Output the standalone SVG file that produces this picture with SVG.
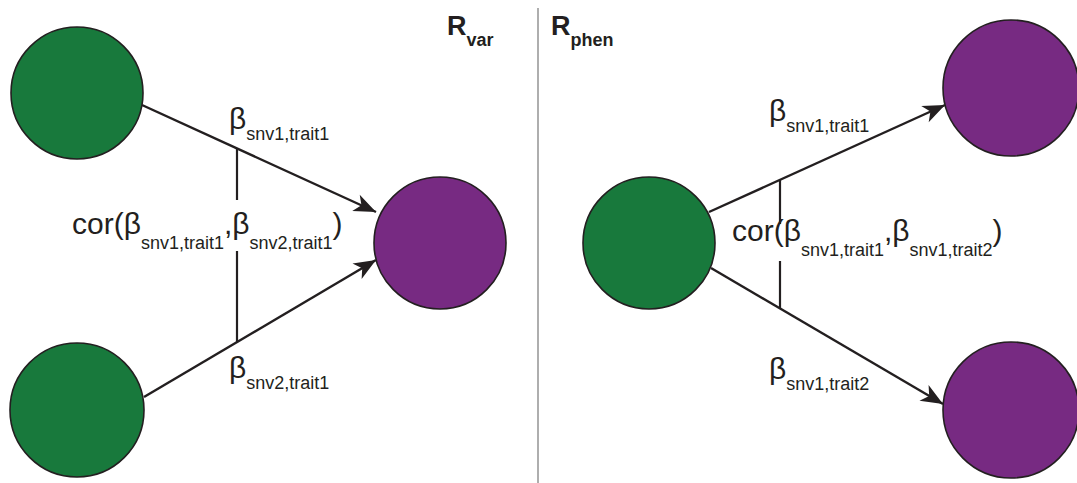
<svg xmlns="http://www.w3.org/2000/svg" width="1077" height="483" viewBox="0 0 1077 483">
  <style>
    .snv { fill: #18793c; stroke: #231f20; stroke-width: 1.6; }
    .trait { fill: #772a82; stroke: #231f20; stroke-width: 1.6; }
    .edge { stroke: #231f20; stroke-width: 2.4; fill: none; }
    .tick { stroke: #231f20; stroke-width: 2.2; fill: none; }
    .lbl { font-family: "Liberation Sans", Arial, sans-serif; font-size: 30px; fill: #231f20; }
    .sub { font-size: 18px; }
    .head { font-family: "Liberation Sans", Arial, sans-serif; font-weight: bold; font-size: 27px; fill: #231f20; }
    .headsub { font-size: 18px; }
  </style>
  <defs>
    <marker id="arrow" markerUnits="userSpaceOnUse" markerWidth="30" markerHeight="24" refX="0" refY="0" viewBox="-24 -12 26 24" orient="auto">
      <path d="M0,0 L-22,-9 L-16,0 L-22,9 Z" fill="#231f20"/>
    </marker>
  </defs>

  <rect width="1077" height="483" fill="#ffffff"/>

  <!-- panel divider -->
  <line x1="538" y1="8" x2="538" y2="483" stroke="#9a9a9a" stroke-width="1.6"/>

  <!-- panel titles -->
  <text class="head" x="447" y="35">R<tspan class="headsub" dy="11">var</tspan></text>
  <text class="head" x="551" y="35">R<tspan class="headsub" dy="11">phen</tspan></text>

  <!-- connectors -->
  <g id="connectors">
    <line class="edge" x1="142" y1="105" x2="376" y2="212" marker-end="url(#arrow)"/>
    <line class="edge" x1="144" y1="397" x2="376" y2="260" marker-end="url(#arrow)"/>
    <line class="tick" x1="237" y1="148" x2="237" y2="200"/>
    <line class="tick" x1="237" y1="251" x2="237" y2="342"/>

    <line class="edge" x1="709" y1="212" x2="945" y2="105" marker-end="url(#arrow)"/>
    <line class="edge" x1="711" y1="268" x2="943" y2="404" marker-end="url(#arrow)"/>
    <line class="tick" x1="780" y1="180" x2="780" y2="224"/>
    <line class="tick" x1="780" y1="261" x2="780" y2="308"/>
  </g>

  <!-- edge labels -->
  <text class="lbl" x="229" y="129">β<tspan class="sub" dy="11">snv1,trait1</tspan></text>
  <text class="lbl" x="229" y="378">β<tspan class="sub" dy="11">snv2,trait1</tspan></text>
  <text class="lbl" x="72" y="234">cor(β<tspan class="sub" dy="15">snv1,trait1</tspan><tspan dy="-15">,β</tspan><tspan class="sub" dy="15">snv2,trait1</tspan><tspan dy="-15">)</tspan></text>

  <text class="lbl" x="769" y="121">β<tspan class="sub" dy="11">snv1,trait1</tspan></text>
  <text class="lbl" x="769" y="379">β<tspan class="sub" dy="11">snv1,trait2</tspan></text>
  <text class="lbl" x="732" y="241">cor(β<tspan class="sub" dy="15">snv1,trait1</tspan><tspan dy="-15">,β</tspan><tspan class="sub" dy="15">snv1,trait2</tspan><tspan dy="-15">)</tspan></text>

  <!-- nodes -->
  <g id="snv1-left"><circle class="snv" cx="77" cy="93" r="66"/></g>
  <g id="snv2-left"><circle class="snv" cx="77" cy="410" r="67"/></g>
  <g id="trait1-left"><circle class="trait" cx="440" cy="243" r="66"/></g>

  <g id="snv1-right"><circle class="snv" cx="649" cy="243" r="66"/></g>
  <g id="trait1-right"><circle class="trait" cx="1011" cy="88" r="68"/></g>
  <g id="trait2-right"><circle class="trait" cx="1011" cy="410" r="68"/></g>
</svg>
